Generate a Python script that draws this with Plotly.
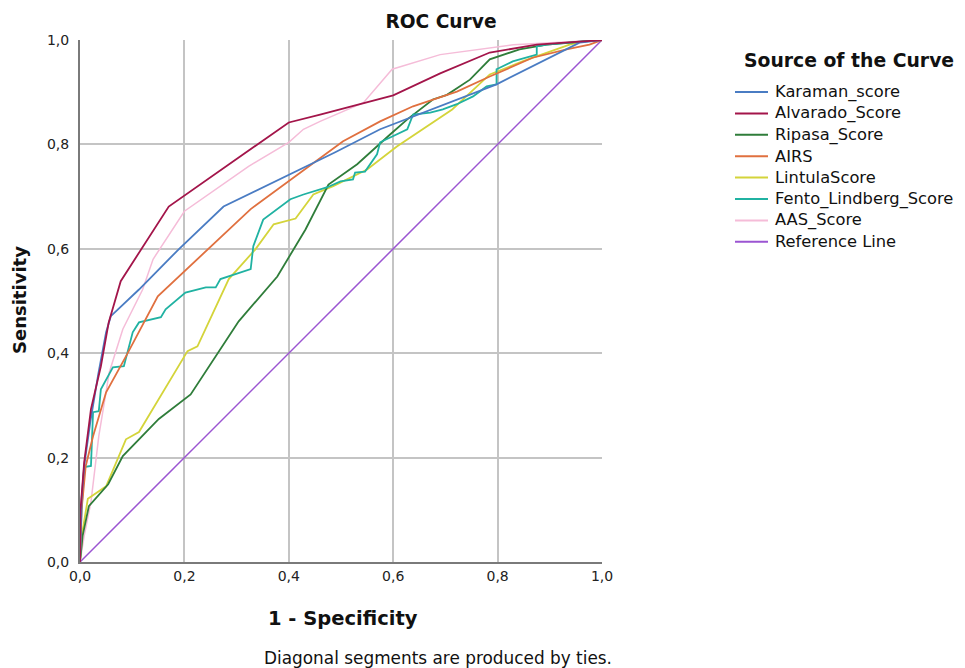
import plotly.graph_objects as go

# ---- data ----
karaman_x = [0, 0.003, 0.008, 0.02, 0.035, 0.05, 0.059, 0.113, 0.189, 0.275, 0.489, 0.575, 0.798, 0.957, 1]
karaman_y = [0, 0.12, 0.184, 0.27, 0.36, 0.44, 0.471, 0.522, 0.599, 0.681, 0.785, 0.829, 0.915, 0.995, 1]

alvarado_x = [0, 0.001, 0.008, 0.021, 0.04, 0.055, 0.078, 0.17, 0.4, 0.46, 0.6, 0.69, 0.785, 0.875, 1]
alvarado_y = [0, 0.1, 0.191, 0.293, 0.375, 0.459, 0.538, 0.681, 0.842, 0.857, 0.894, 0.936, 0.976, 0.991, 1]

ripasa_x = [0, 0.005, 0.017, 0.054, 0.082, 0.151, 0.212, 0.266, 0.304, 0.378, 0.432, 0.476, 0.531,
            0.594, 0.627, 0.676, 0.703, 0.747, 0.785, 0.842, 0.894, 1]
ripasa_y = [0, 0.05, 0.107, 0.149, 0.203, 0.274, 0.321, 0.404, 0.461, 0.547, 0.637, 0.723, 0.762,
            0.819, 0.848, 0.886, 0.895, 0.924, 0.963, 0.982, 0.991, 1]

airs_x = [0, 0.003, 0.011, 0.025, 0.05, 0.088, 0.149, 0.246, 0.327, 0.504, 0.575, 0.638, 0.722,
          0.785, 0.867, 0.932, 0.976, 1]
airs_y = [0, 0.1, 0.184, 0.241, 0.325, 0.394, 0.509, 0.599, 0.676, 0.806, 0.844, 0.873, 0.901,
          0.93, 0.966, 0.982, 0.991, 1]

lintula_x = [0, 0.005, 0.015, 0.05, 0.088, 0.113, 0.206, 0.225, 0.285, 0.336, 0.371, 0.413, 0.447,
             0.485, 0.55, 0.607, 0.713, 0.785, 0.85, 0.938, 0.975, 1]
lintula_y = [0, 0.06, 0.121, 0.145, 0.235, 0.249, 0.404, 0.413, 0.542, 0.599, 0.647, 0.658, 0.704,
             0.72, 0.752, 0.796, 0.867, 0.934, 0.96, 0.991, 1, 1]

fento_x = [0, 0.003, 0.008, 0.021, 0.025, 0.036, 0.04, 0.059, 0.063, 0.084, 0.094, 0.101, 0.113,
           0.155, 0.164, 0.202, 0.241, 0.26, 0.269, 0.327, 0.332, 0.351, 0.403, 0.428, 0.474,
           0.499, 0.523, 0.527, 0.546, 0.569, 0.575, 0.607, 0.627, 0.638, 0.671, 0.695, 0.722,
           0.753, 0.779, 0.798, 0.798, 0.829, 0.875, 0.875, 0.894, 0.957, 1]
fento_y = [0, 0.1, 0.182, 0.184, 0.287, 0.289, 0.331, 0.364, 0.373, 0.375, 0.413, 0.44, 0.459,
           0.469, 0.484, 0.516, 0.526, 0.526, 0.542, 0.561, 0.605, 0.656, 0.695, 0.704, 0.718,
           0.729, 0.733, 0.746, 0.748, 0.781, 0.804, 0.819, 0.829, 0.857, 0.861, 0.867, 0.877,
           0.892, 0.911, 0.915, 0.944, 0.959, 0.972, 0.988, 0.991, 0.997, 1]

aas_x = [0, 0.008, 0.021, 0.036, 0.056, 0.082, 0.12, 0.14, 0.2, 0.323, 0.4, 0.428, 0.46, 0.543,
         0.598, 0.69, 0.83, 1]
aas_y = [0, 0.05, 0.115, 0.241, 0.363, 0.446, 0.522, 0.58, 0.672, 0.758, 0.804, 0.829, 0.844, 0.88,
         0.944, 0.972, 0.991, 1]

ref_x = [0, 1]
ref_y = [0, 1]

series_names = ["Karaman_score", "Alvarado_Score", "Ripasa_Score", "AIRS", "LintulaScore",
                "Fento_Lindberg_Score", "AAS_Score", "Reference Line"]
tick_vals = [0, 0.2, 0.4, 0.6, 0.8, 1.0]
tick_text = ["0,0", "0,2", "0,4", "0,6", "0,8", "1,0"]

# ---- styling ----
colors = ["#4a7cc3", "#a3154a", "#2f7d3a", "#e0703f", "#d4d43a", "#20b2a2", "#f5bcd8", "#9b55d2"]
widths = [1.8, 1.8, 1.8, 1.8, 1.8, 1.8, 1.5, 1.5]
FONT = "DejaVu Sans"
TXT = "#111111"

xs = [karaman_x, alvarado_x, ripasa_x, airs_x, lintula_x, fento_x, aas_x, ref_x]
ys = [karaman_y, alvarado_y, ripasa_y, airs_y, lintula_y, fento_y, aas_y, ref_y]

fig = go.Figure()
draw_order = [7, 6, 4, 2, 5, 3, 0, 1]
for i in draw_order:
    fig.add_trace(go.Scatter(x=xs[i], y=ys[i], mode="lines", name=series_names[i],
                             line=dict(color=colors[i], width=widths[i]),
                             showlegend=False, hoverinfo="skip"))

# page has an 8px body margin: figure is shifted by (8, 8)
OFF = 8
W, H = 965 - OFF, 668 - OFF
PL, PR, PT, PB = 80, 602, 40, 562   # plot area in page pixels
L, R, T, B = PL - OFF, W - (PR - OFF), PT - OFF, H - (PB - OFF)
PW = PR - PL
PH = PB - PT


def pxx(px):
    return (px - PL) / PW


def pxy(py):
    return (PB - py) / PH


fig.update_layout(
    width=W, height=H,
    margin=dict(l=L, r=R, t=T, b=B, pad=0),
    paper_bgcolor="white", plot_bgcolor="white",
    font=dict(family=FONT, color=TXT),
    showlegend=False,
    title=dict(text="<b>ROC Curve</b>", font=dict(size=18.6, family=FONT, color=TXT),
               xref="paper", x=pxx(441), xanchor="center",
               yref="container", y=1 - (21 - OFF) / H, yanchor="middle"),
    xaxis=dict(range=[0, 1], tickvals=tick_vals, ticktext=tick_text,
               showgrid=True, gridcolor="#c4c4c4", gridwidth=2,
               showline=True, linecolor="#7a7a7a", linewidth=2,
               zeroline=False, ticks="", tickfont=dict(size=14, family=FONT, color="#222222"),
               fixedrange=True),
    yaxis=dict(range=[0, 1], tickvals=tick_vals, ticktext=tick_text,
               showgrid=True, gridcolor="#c4c4c4", gridwidth=2,
               showline=True, linecolor="#7a7a7a", linewidth=2,
               zeroline=False, ticks="", tickfont=dict(size=14, family=FONT, color="#222222"),
               ticklabelstandoff=6, fixedrange=True),
)

# axis titles and footnote
fig.add_annotation(text="<b>Sensitivity</b>", xref="paper", yref="paper",
                   x=pxx(19), y=pxy(300), textangle=-90,
                   showarrow=False, xanchor="center", yanchor="middle",
                   font=dict(size=18, family=FONT, color=TXT))
fig.add_annotation(text="<b>1 - Specificity</b>", xref="paper", yref="paper",
                   x=pxx(343), y=pxy(618),
                   showarrow=False, xanchor="center", yanchor="middle",
                   font=dict(size=19.5, family=FONT, color=TXT))
fig.add_annotation(text="Diagonal segments are produced by ties.", xref="paper", yref="paper",
                   x=pxx(438), y=pxy(658),
                   showarrow=False, xanchor="center", yanchor="middle",
                   font=dict(size=16.9, family=FONT, color=TXT))

# legend (built from the series names and colours)
fig.add_annotation(text="<b>Source of the Curve</b>", xref="paper", yref="paper",
                   x=pxx(849), y=pxy(60), showarrow=False,
                   xanchor="center", yanchor="middle",
                   font=dict(size=18.8, family=FONT, color=TXT))
LEG_Y0, LEG_DY = 92, 21.4
for i, name in enumerate(series_names):
    yy = pxy(LEG_Y0 + LEG_DY * i)
    fig.add_shape(type="line", xref="paper", yref="paper",
                  x0=pxx(735), x1=pxx(768), y0=yy, y1=yy,
                  line=dict(color=colors[i], width=2))
    fig.add_annotation(text=name, xref="paper", yref="paper",
                       x=pxx(773), y=yy, showarrow=False,
                       xanchor="left", yanchor="middle",
                       font=dict(size=16.3, family=FONT, color=TXT))

fig.write_html("out.html")
